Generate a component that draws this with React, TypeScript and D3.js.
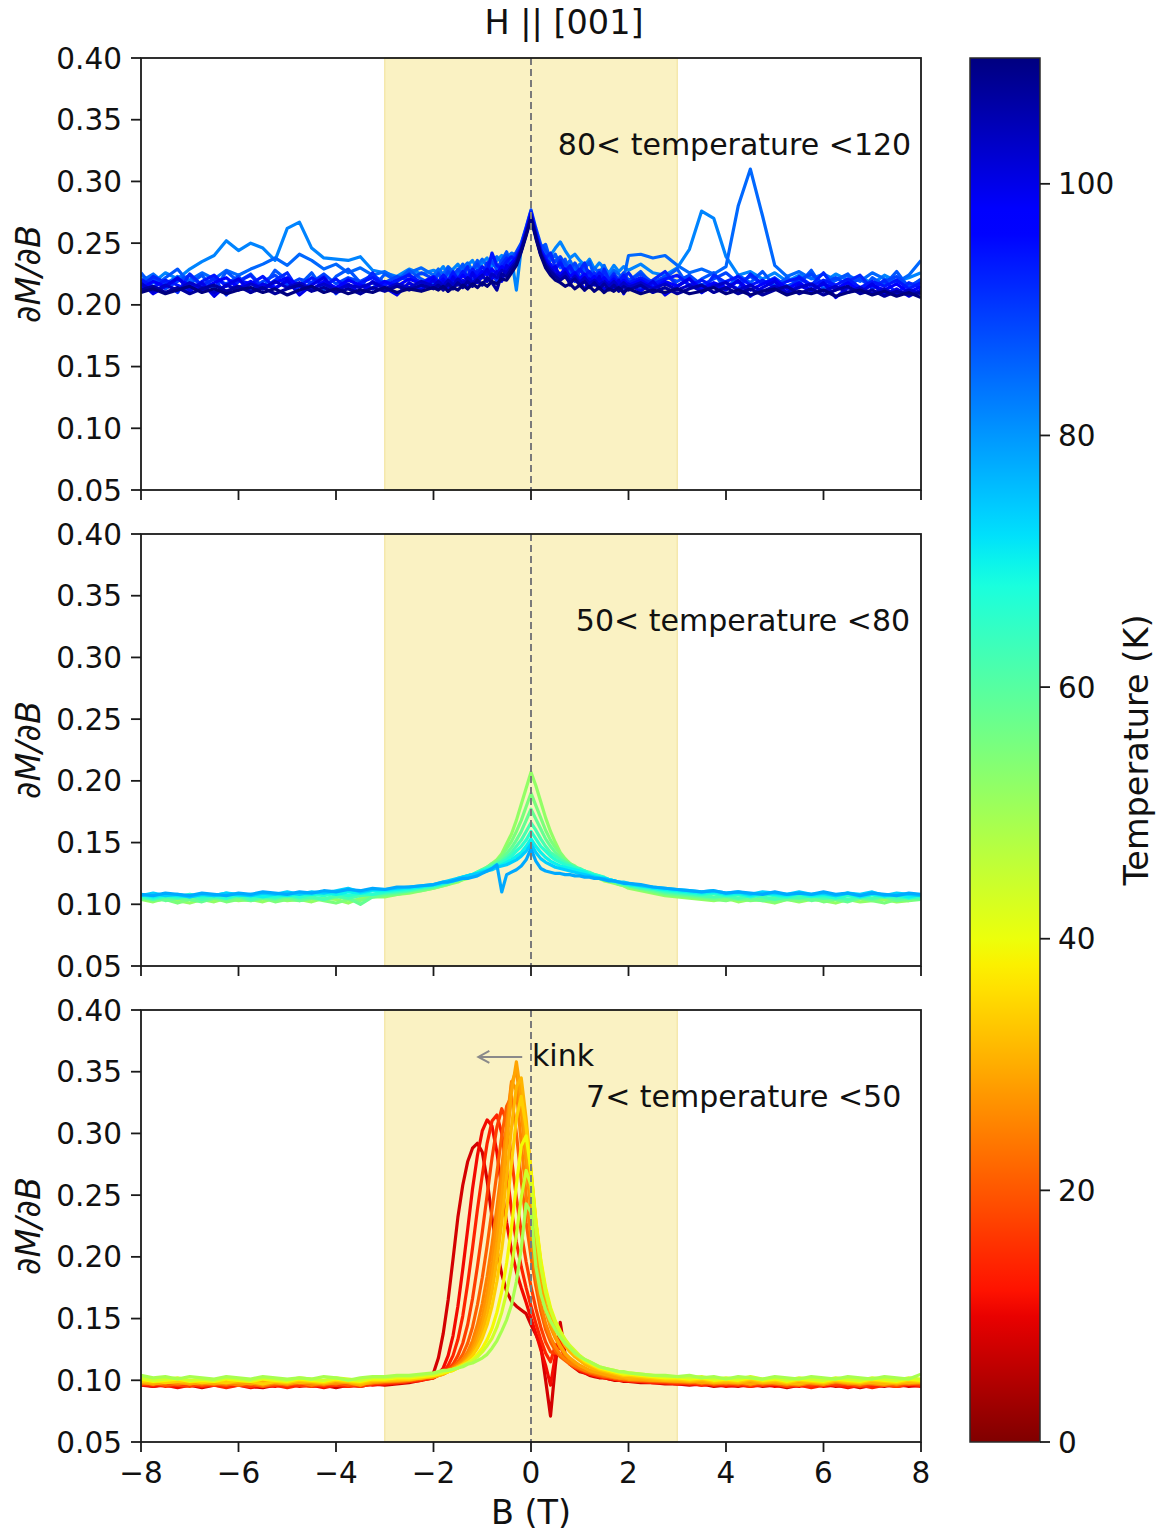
import React from 'react'
import * as d3 from 'd3'

// field grid (T): coarse in the wings, 0.1 T steps between -1.9 and 1.9
const fieldB = [
  -8, -7.75, -7.5, -7.25, -7, -6.75, -6.5, -6.25, -6, -5.75, -5.5, -5.25, -5, -4.75, -4.5, -4.25, -4, -3.75, -3.5, -3.25, -3, -2.75, -2.5, -2.25, -2,
  -1.9, -1.8, -1.7, -1.6, -1.5, -1.4, -1.3, -1.2, -1.1, -1, -0.9, -0.8, -0.7, -0.6, -0.5, -0.4, -0.3, -0.2, -0.1, 0,
  0.1, 0.2, 0.3, 0.4, 0.5, 0.6, 0.7, 0.8, 0.9, 1, 1.1, 1.2, 1.3, 1.4, 1.5, 1.6, 1.7, 1.8, 1.9,
  2, 2.25, 2.5, 2.75, 3, 3.25, 3.5, 3.75, 4, 4.25, 4.5, 4.75, 5, 5.25, 5.5, 5.75, 6, 6.25, 6.5, 6.75, 7, 7.25, 7.5, 7.75, 8,
]

// 80 < T < 120
const highTemps = [82, 85, 87, 89, 92, 94, 98, 100, 103, 107, 112]
const highCurves = [
  [0.224, 0.218, 0.226, 0.221, 0.229, 0.235, 0.240, 0.252, 0.244, 0.250, 0.246, 0.236, 0.262, 0.267, 0.246, 0.238, 0.237, 0.236, 0.239, 0.228, 0.226, 0.223, 0.229, 0.225, 0.228,
   0.226, 0.231, 0.224, 0.229, 0.233, 0.227, 0.232, 0.236, 0.229, 0.234, 0.238, 0.231, 0.236, 0.240, 0.233, 0.238, 0.212, 0.246, 0.258, 0.270,
   0.256, 0.247, 0.243, 0.240, 0.246, 0.251, 0.244, 0.238, 0.241, 0.236, 0.232, 0.237, 0.229, 0.234, 0.230, 0.226, 0.232, 0.227, 0.231,
   0.228, 0.233, 0.226, 0.224, 0.230, 0.245, 0.276, 0.270, 0.239, 0.224, 0.227, 0.221, 0.226, 0.219, 0.224, 0.222, 0.218, 0.225, 0.220, 0.223, 0.217, 0.224, 0.219, 0.222, 0.226],
  [0.219, 0.225, 0.217, 0.223, 0.220, 0.226, 0.221, 0.228, 0.224, 0.229, 0.233, 0.238, 0.232, 0.241, 0.236, 0.229, 0.233, 0.226, 0.230, 0.224, 0.227, 0.221, 0.226, 0.230, 0.224,
   0.229, 0.225, 0.231, 0.227, 0.224, 0.230, 0.234, 0.228, 0.232, 0.237, 0.231, 0.235, 0.239, 0.234, 0.238, 0.242, 0.240, 0.249, 0.262, 0.276,
   0.259, 0.246, 0.241, 0.237, 0.240, 0.235, 0.231, 0.236, 0.228, 0.233, 0.229, 0.224, 0.230, 0.226, 0.232, 0.223, 0.228, 0.225, 0.221,
   0.240, 0.241, 0.238, 0.240, 0.232, 0.226, 0.229, 0.225, 0.231, 0.280, 0.310, 0.272, 0.232, 0.223, 0.227, 0.221, 0.225, 0.220, 0.224, 0.219, 0.226, 0.221, 0.218, 0.224, 0.236],
  [0.226, 0.214, 0.222, 0.229, 0.217, 0.224, 0.212, 0.227, 0.219, 0.225, 0.214, 0.228, 0.220, 0.216, 0.226, 0.212, 0.223, 0.229, 0.218, 0.213, 0.225, 0.219, 0.228, 0.221, 0.216,
   0.226, 0.221, 0.230, 0.218, 0.227, 0.233, 0.222, 0.229, 0.236, 0.224, 0.232, 0.239, 0.228, 0.236, 0.243, 0.231, 0.240, 0.248, 0.261, 0.273,
   0.260, 0.246, 0.249, 0.236, 0.241, 0.230, 0.237, 0.226, 0.233, 0.221, 0.229, 0.235, 0.223, 0.217, 0.228, 0.221, 0.226, 0.218, 0.224,
   0.219, 0.227, 0.216, 0.222, 0.229, 0.214, 0.221, 0.226, 0.212, 0.224, 0.218, 0.227, 0.215, 0.222, 0.217, 0.228, 0.213, 0.220, 0.225, 0.211, 0.222, 0.216, 0.227, 0.214, 0.221],
  [0.216, 0.222, 0.213, 0.219, 0.224, 0.215, 0.221, 0.217, 0.223, 0.212, 0.219, 0.224, 0.216, 0.221, 0.218, 0.225, 0.217, 0.222, 0.219, 0.224, 0.218, 0.223, 0.220, 0.226, 0.221,
   0.225, 0.219, 0.227, 0.223, 0.229, 0.224, 0.221, 0.228, 0.233, 0.226, 0.231, 0.235, 0.229, 0.236, 0.240, 0.237, 0.243, 0.250, 0.263, 0.277,
   0.262, 0.249, 0.244, 0.238, 0.235, 0.239, 0.233, 0.229, 0.234, 0.227, 0.231, 0.226, 0.222, 0.228, 0.224, 0.219, 0.225, 0.221, 0.226,
   0.220, 0.225, 0.218, 0.223, 0.219, 0.224, 0.216, 0.221, 0.226, 0.218, 0.223, 0.217, 0.222, 0.215, 0.220, 0.225, 0.217, 0.222, 0.216, 0.221, 0.214, 0.219, 0.223, 0.215, 0.220],
  [0.214, 0.223, 0.218, 0.210, 0.225, 0.216, 0.221, 0.208, 0.219, 0.224, 0.213, 0.220, 0.226, 0.211, 0.218, 0.223, 0.209, 0.221, 0.215, 0.226, 0.212, 0.219, 0.225, 0.214, 0.221,
   0.216, 0.224, 0.212, 0.227, 0.219, 0.225, 0.231, 0.217, 0.228, 0.222, 0.234, 0.226, 0.219, 0.233, 0.238, 0.228, 0.241, 0.246, 0.260, 0.275,
   0.258, 0.244, 0.238, 0.242, 0.230, 0.236, 0.224, 0.232, 0.219, 0.228, 0.234, 0.221, 0.226, 0.214, 0.229, 0.220, 0.225, 0.212, 0.222,
   0.226, 0.213, 0.220, 0.227, 0.215, 0.222, 0.210, 0.224, 0.218, 0.213, 0.225, 0.217, 0.221, 0.209, 0.223, 0.216, 0.226, 0.212, 0.219, 0.224, 0.213, 0.220, 0.209, 0.218, 0.214],
  [0.221, 0.214, 0.220, 0.216, 0.211, 0.219, 0.224, 0.215, 0.220, 0.217, 0.223, 0.214, 0.219, 0.215, 0.222, 0.216, 0.221, 0.213, 0.218, 0.222, 0.216, 0.220, 0.224, 0.218, 0.223,
   0.219, 0.224, 0.220, 0.226, 0.221, 0.227, 0.223, 0.229, 0.225, 0.231, 0.227, 0.242, 0.232, 0.229, 0.235, 0.239, 0.236, 0.247, 0.261, 0.275,
   0.259, 0.245, 0.238, 0.233, 0.229, 0.234, 0.228, 0.231, 0.225, 0.229, 0.224, 0.227, 0.221, 0.226, 0.222, 0.218, 0.223, 0.219, 0.224,
   0.218, 0.222, 0.217, 0.221, 0.224, 0.216, 0.220, 0.215, 0.219, 0.223, 0.216, 0.220, 0.214, 0.219, 0.222, 0.215, 0.220, 0.216, 0.221, 0.214, 0.219, 0.215, 0.220, 0.213, 0.218],
  [0.213, 0.219, 0.215, 0.221, 0.216, 0.212, 0.218, 0.222, 0.214, 0.219, 0.213, 0.218, 0.222, 0.215, 0.212, 0.219, 0.214, 0.220, 0.216, 0.213, 0.219, 0.215, 0.221, 0.217, 0.222,
   0.217, 0.221, 0.216, 0.223, 0.219, 0.224, 0.220, 0.226, 0.222, 0.227, 0.224, 0.229, 0.225, 0.231, 0.228, 0.234, 0.238, 0.246, 0.259, 0.274,
   0.257, 0.243, 0.236, 0.231, 0.228, 0.225, 0.229, 0.223, 0.226, 0.221, 0.225, 0.219, 0.223, 0.218, 0.222, 0.217, 0.221, 0.216, 0.220,
   0.216, 0.220, 0.214, 0.219, 0.215, 0.221, 0.213, 0.218, 0.214, 0.219, 0.212, 0.217, 0.221, 0.213, 0.218, 0.212, 0.217, 0.213, 0.218, 0.211, 0.216, 0.212, 0.217, 0.210, 0.215],
  [0.218, 0.209, 0.215, 0.222, 0.212, 0.218, 0.207, 0.216, 0.221, 0.210, 0.217, 0.213, 0.220, 0.208, 0.216, 0.222, 0.211, 0.217, 0.209, 0.219, 0.214, 0.208, 0.218, 0.212, 0.220,
   0.214, 0.219, 0.211, 0.222, 0.216, 0.220, 0.213, 0.226, 0.218, 0.223, 0.229, 0.221, 0.227, 0.219, 0.232, 0.228, 0.235, 0.244, 0.258, 0.273,
   0.256, 0.241, 0.233, 0.228, 0.231, 0.222, 0.227, 0.216, 0.224, 0.219, 0.212, 0.221, 0.216, 0.223, 0.211, 0.218, 0.213, 0.220, 0.209,
   0.217, 0.211, 0.219, 0.208, 0.215, 0.221, 0.210, 0.216, 0.212, 0.220, 0.207, 0.214, 0.219, 0.209, 0.216, 0.211, 0.218, 0.206, 0.214, 0.210, 0.217, 0.208, 0.213, 0.207, 0.212],
  [0.217, 0.211, 0.216, 0.212, 0.218, 0.214, 0.210, 0.216, 0.212, 0.217, 0.213, 0.219, 0.214, 0.218, 0.213, 0.217, 0.212, 0.216, 0.214, 0.218, 0.213, 0.217, 0.214, 0.219, 0.215,
   0.219, 0.215, 0.220, 0.216, 0.221, 0.217, 0.222, 0.218, 0.221, 0.224, 0.219, 0.225, 0.222, 0.228, 0.226, 0.231, 0.236, 0.245, 0.258, 0.272,
   0.256, 0.242, 0.234, 0.229, 0.225, 0.222, 0.226, 0.220, 0.223, 0.218, 0.222, 0.217, 0.220, 0.216, 0.219, 0.215, 0.219, 0.214, 0.218,
   0.214, 0.218, 0.213, 0.217, 0.212, 0.216, 0.211, 0.215, 0.218, 0.212, 0.216, 0.211, 0.215, 0.210, 0.214, 0.217, 0.211, 0.215, 0.210, 0.214, 0.209, 0.213, 0.208, 0.212, 0.209],
  [0.212, 0.215, 0.210, 0.214, 0.209, 0.213, 0.216, 0.211, 0.215, 0.210, 0.214, 0.209, 0.213, 0.216, 0.211, 0.214, 0.210, 0.213, 0.209, 0.214, 0.211, 0.215, 0.212, 0.216, 0.213,
   0.216, 0.212, 0.217, 0.213, 0.218, 0.214, 0.219, 0.215, 0.220, 0.216, 0.222, 0.218, 0.212, 0.225, 0.223, 0.229, 0.234, 0.244, 0.257, 0.271,
   0.255, 0.241, 0.232, 0.227, 0.223, 0.220, 0.223, 0.218, 0.221, 0.216, 0.219, 0.214, 0.218, 0.213, 0.217, 0.212, 0.216, 0.211, 0.215,
   0.212, 0.216, 0.210, 0.214, 0.209, 0.213, 0.216, 0.210, 0.214, 0.209, 0.213, 0.208, 0.212, 0.215, 0.209, 0.213, 0.208, 0.212, 0.215, 0.209, 0.212, 0.207, 0.211, 0.208, 0.210],
  [0.210, 0.213, 0.209, 0.212, 0.215, 0.210, 0.213, 0.209, 0.212, 0.214, 0.210, 0.213, 0.208, 0.212, 0.215, 0.210, 0.213, 0.209, 0.212, 0.210, 0.214, 0.210, 0.213, 0.211, 0.214,
   0.212, 0.215, 0.211, 0.214, 0.212, 0.216, 0.213, 0.217, 0.214, 0.218, 0.215, 0.219, 0.217, 0.221, 0.220, 0.226, 0.232, 0.243, 0.256, 0.270,
   0.254, 0.240, 0.230, 0.224, 0.220, 0.218, 0.215, 0.217, 0.213, 0.216, 0.212, 0.215, 0.211, 0.214, 0.210, 0.213, 0.211, 0.214, 0.210,
   0.213, 0.209, 0.212, 0.210, 0.213, 0.209, 0.211, 0.214, 0.209, 0.212, 0.208, 0.211, 0.213, 0.208, 0.211, 0.209, 0.212, 0.207, 0.210, 0.212, 0.208, 0.211, 0.207, 0.210, 0.206],
]

// 50 < T < 80
const midTemps = [52, 55, 58, 62, 66, 70, 74, 78]
const midCurves = [
  [0.104, 0.102, 0.105, 0.103, 0.101, 0.104, 0.102, 0.105, 0.103, 0.104, 0.102, 0.105, 0.103, 0.104, 0.102, 0.105, 0.104, 0.101, 0.105, 0.106, 0.106, 0.108, 0.109, 0.111, 0.113,
   0.114, 0.115, 0.116, 0.117, 0.118, 0.120, 0.121, 0.123, 0.125, 0.127, 0.130, 0.133, 0.136, 0.141, 0.149, 0.157, 0.168, 0.181, 0.194, 0.207,
   0.196, 0.183, 0.170, 0.159, 0.150, 0.142, 0.137, 0.133, 0.130, 0.128, 0.126, 0.124, 0.122, 0.121, 0.119, 0.118, 0.117, 0.116, 0.115,
   0.113, 0.111, 0.109, 0.107, 0.106, 0.105, 0.104, 0.103, 0.105, 0.102, 0.104, 0.103, 0.101, 0.104, 0.102, 0.104, 0.103, 0.101, 0.104, 0.102, 0.103, 0.104, 0.102, 0.103, 0.106],
  [0.105, 0.103, 0.104, 0.101, 0.104, 0.103, 0.105, 0.102, 0.104, 0.103, 0.105, 0.102, 0.104, 0.103, 0.105, 0.103, 0.101, 0.104, 0.103, 0.106, 0.107, 0.108, 0.110, 0.111, 0.113,
   0.114, 0.115, 0.116, 0.118, 0.119, 0.120, 0.122, 0.124, 0.126, 0.128, 0.130, 0.133, 0.135, 0.139, 0.145, 0.151, 0.159, 0.168, 0.179, 0.190,
   0.180, 0.170, 0.160, 0.152, 0.146, 0.141, 0.136, 0.133, 0.131, 0.128, 0.126, 0.125, 0.123, 0.121, 0.120, 0.119, 0.118, 0.116, 0.115,
   0.114, 0.112, 0.110, 0.108, 0.107, 0.106, 0.105, 0.104, 0.103, 0.105, 0.103, 0.104, 0.102, 0.104, 0.103, 0.105, 0.102, 0.104, 0.103, 0.105, 0.103, 0.101, 0.104, 0.103, 0.104],
  [0.104, 0.106, 0.103, 0.105, 0.104, 0.102, 0.105, 0.104, 0.106, 0.103, 0.105, 0.104, 0.106, 0.103, 0.105, 0.104, 0.106, 0.105, 0.100, 0.106, 0.108, 0.109, 0.111, 0.112, 0.114,
   0.115, 0.116, 0.117, 0.118, 0.120, 0.121, 0.123, 0.124, 0.126, 0.128, 0.130, 0.132, 0.134, 0.137, 0.141, 0.146, 0.152, 0.159, 0.168, 0.177,
   0.169, 0.161, 0.153, 0.147, 0.142, 0.138, 0.135, 0.132, 0.130, 0.128, 0.127, 0.125, 0.124, 0.122, 0.121, 0.119, 0.118, 0.117, 0.116,
   0.115, 0.113, 0.111, 0.109, 0.108, 0.107, 0.106, 0.105, 0.106, 0.104, 0.105, 0.103, 0.105, 0.104, 0.106, 0.103, 0.105, 0.104, 0.102, 0.105, 0.104, 0.106, 0.103, 0.105, 0.104],
  [0.106, 0.104, 0.106, 0.105, 0.107, 0.104, 0.106, 0.105, 0.107, 0.104, 0.106, 0.105, 0.107, 0.105, 0.106, 0.104, 0.107, 0.105, 0.107, 0.108, 0.109, 0.110, 0.111, 0.113, 0.114,
   0.115, 0.116, 0.117, 0.119, 0.120, 0.121, 0.123, 0.124, 0.126, 0.128, 0.129, 0.131, 0.133, 0.135, 0.138, 0.142, 0.147, 0.152, 0.159, 0.166,
   0.160, 0.153, 0.147, 0.142, 0.139, 0.136, 0.134, 0.132, 0.130, 0.129, 0.127, 0.126, 0.124, 0.123, 0.121, 0.120, 0.119, 0.117, 0.116,
   0.115, 0.113, 0.112, 0.110, 0.109, 0.108, 0.107, 0.106, 0.107, 0.105, 0.107, 0.106, 0.104, 0.106, 0.105, 0.107, 0.105, 0.106, 0.104, 0.106, 0.105, 0.107, 0.105, 0.106, 0.105],
  [0.107, 0.105, 0.107, 0.106, 0.108, 0.106, 0.107, 0.105, 0.108, 0.106, 0.107, 0.106, 0.108, 0.106, 0.108, 0.107, 0.109, 0.107, 0.109, 0.108, 0.110, 0.111, 0.112, 0.114, 0.115,
   0.116, 0.117, 0.118, 0.119, 0.120, 0.122, 0.123, 0.124, 0.126, 0.127, 0.129, 0.130, 0.132, 0.134, 0.136, 0.139, 0.143, 0.147, 0.152, 0.159,
   0.153, 0.147, 0.143, 0.139, 0.136, 0.134, 0.132, 0.131, 0.129, 0.128, 0.127, 0.125, 0.124, 0.123, 0.122, 0.120, 0.119, 0.118, 0.117,
   0.116, 0.114, 0.113, 0.111, 0.110, 0.109, 0.108, 0.109, 0.107, 0.108, 0.106, 0.108, 0.107, 0.106, 0.108, 0.106, 0.107, 0.105, 0.107, 0.106, 0.108, 0.106, 0.107, 0.105, 0.107],
  [0.108, 0.106, 0.108, 0.107, 0.106, 0.108, 0.107, 0.109, 0.107, 0.108, 0.106, 0.108, 0.107, 0.109, 0.108, 0.110, 0.108, 0.110, 0.109, 0.111, 0.111, 0.112, 0.113, 0.114, 0.116,
   0.116, 0.117, 0.118, 0.119, 0.121, 0.122, 0.123, 0.124, 0.125, 0.127, 0.128, 0.129, 0.131, 0.132, 0.134, 0.136, 0.139, 0.142, 0.147, 0.153,
   0.147, 0.142, 0.138, 0.135, 0.133, 0.131, 0.130, 0.129, 0.128, 0.127, 0.126, 0.124, 0.123, 0.122, 0.121, 0.120, 0.119, 0.118, 0.117,
   0.116, 0.115, 0.113, 0.112, 0.111, 0.110, 0.109, 0.110, 0.108, 0.109, 0.107, 0.109, 0.108, 0.107, 0.109, 0.107, 0.108, 0.107, 0.109, 0.106, 0.108, 0.107, 0.108, 0.106, 0.108],
  [0.107, 0.109, 0.107, 0.108, 0.106, 0.108, 0.107, 0.109, 0.108, 0.107, 0.109, 0.108, 0.110, 0.108, 0.110, 0.109, 0.111, 0.113, 0.110, 0.112, 0.112, 0.113, 0.114, 0.115, 0.116,
   0.117, 0.118, 0.119, 0.120, 0.121, 0.122, 0.123, 0.124, 0.125, 0.126, 0.127, 0.128, 0.130, 0.131, 0.132, 0.134, 0.136, 0.139, 0.143, 0.149,
   0.142, 0.137, 0.134, 0.132, 0.130, 0.129, 0.128, 0.127, 0.126, 0.125, 0.124, 0.123, 0.122, 0.121, 0.121, 0.120, 0.119, 0.118, 0.118,
   0.117, 0.115, 0.114, 0.113, 0.112, 0.111, 0.110, 0.111, 0.109, 0.110, 0.108, 0.110, 0.109, 0.108, 0.110, 0.108, 0.109, 0.107, 0.109, 0.108, 0.110, 0.107, 0.109, 0.108, 0.107],
  [0.108, 0.107, 0.109, 0.108, 0.107, 0.109, 0.108, 0.107, 0.109, 0.108, 0.110, 0.109, 0.108, 0.110, 0.109, 0.111, 0.110, 0.112, 0.111, 0.113, 0.112, 0.114, 0.114, 0.115, 0.116,
   0.117, 0.118, 0.118, 0.119, 0.120, 0.121, 0.121, 0.122, 0.123, 0.125, 0.127, 0.129, 0.132, 0.110, 0.124, 0.126, 0.128, 0.131, 0.136, 0.145,
   0.135, 0.129, 0.127, 0.126, 0.125, 0.125, 0.124, 0.124, 0.123, 0.123, 0.122, 0.122, 0.121, 0.121, 0.120, 0.119, 0.119, 0.118, 0.117,
   0.117, 0.116, 0.114, 0.113, 0.112, 0.111, 0.110, 0.111, 0.109, 0.110, 0.109, 0.108, 0.110, 0.108, 0.109, 0.108, 0.110, 0.108, 0.109, 0.107, 0.109, 0.108, 0.107, 0.109, 0.108],
]

// 7 < T < 50
const lowTemps = [8, 11, 14, 17, 21, 25, 27, 29, 31, 34, 39, 44, 49]
const lowCurves = [
  [0.096, 0.095, 0.097, 0.095, 0.096, 0.094, 0.096, 0.095, 0.097, 0.095, 0.094, 0.096, 0.095, 0.097, 0.095, 0.096, 0.094, 0.096, 0.095, 0.097, 0.096, 0.097, 0.098, 0.100, 0.106,
   0.118, 0.138, 0.165, 0.198, 0.232, 0.258, 0.277, 0.288, 0.292, 0.285, 0.262, 0.232, 0.206, 0.186, 0.172, 0.164, 0.160, 0.157, 0.154, 0.145,
   0.137, 0.128, 0.100, 0.071, 0.112, 0.147, 0.121, 0.113, 0.110, 0.107, 0.106, 0.104, 0.103, 0.102, 0.102, 0.101, 0.100, 0.100, 0.099,
   0.099, 0.098, 0.098, 0.097, 0.097, 0.096, 0.097, 0.095, 0.096, 0.095, 0.097, 0.095, 0.096, 0.094, 0.096, 0.095, 0.097, 0.095, 0.096, 0.094, 0.096, 0.095, 0.097, 0.095, 0.096],
  [0.097, 0.095, 0.096, 0.094, 0.096, 0.095, 0.097, 0.095, 0.096, 0.094, 0.096, 0.095, 0.097, 0.095, 0.096, 0.094, 0.096, 0.095, 0.097, 0.096, 0.097, 0.098, 0.099, 0.100, 0.102,
   0.105, 0.110, 0.120, 0.136, 0.160, 0.190, 0.222, 0.255, 0.282, 0.302, 0.311, 0.306, 0.285, 0.255, 0.228, 0.205, 0.188, 0.175, 0.163, 0.150,
   0.138, 0.125, 0.112, 0.096, 0.120, 0.138, 0.118, 0.114, 0.111, 0.108, 0.106, 0.105, 0.104, 0.103, 0.102, 0.101, 0.101, 0.100, 0.100,
   0.099, 0.099, 0.098, 0.098, 0.097, 0.097, 0.096, 0.097, 0.095, 0.096, 0.095, 0.097, 0.095, 0.096, 0.095, 0.097, 0.095, 0.096, 0.094, 0.096, 0.095, 0.097, 0.095, 0.096, 0.095],
  [0.096, 0.097, 0.095, 0.096, 0.097, 0.095, 0.096, 0.094, 0.096, 0.097, 0.095, 0.096, 0.094, 0.096, 0.097, 0.095, 0.096, 0.095, 0.096, 0.097, 0.097, 0.098, 0.099, 0.100, 0.102,
   0.104, 0.107, 0.112, 0.120, 0.133, 0.152, 0.178, 0.207, 0.238, 0.266, 0.292, 0.310, 0.315, 0.300, 0.270, 0.238, 0.212, 0.192, 0.175, 0.160,
   0.146, 0.133, 0.122, 0.115, 0.128, 0.133, 0.117, 0.113, 0.110, 0.108, 0.107, 0.105, 0.104, 0.103, 0.102, 0.102, 0.101, 0.100, 0.100,
   0.100, 0.099, 0.098, 0.098, 0.097, 0.098, 0.096, 0.097, 0.096, 0.097, 0.095, 0.096, 0.097, 0.095, 0.096, 0.094, 0.096, 0.097, 0.095, 0.096, 0.094, 0.096, 0.095, 0.097, 0.096],
  [0.097, 0.096, 0.098, 0.096, 0.095, 0.097, 0.096, 0.098, 0.096, 0.095, 0.097, 0.096, 0.098, 0.096, 0.095, 0.097, 0.096, 0.097, 0.095, 0.097, 0.098, 0.098, 0.099, 0.101, 0.102,
   0.104, 0.106, 0.109, 0.113, 0.120, 0.130, 0.145, 0.166, 0.192, 0.220, 0.250, 0.280, 0.305, 0.320, 0.310, 0.280, 0.248, 0.220, 0.196, 0.176,
   0.158, 0.143, 0.131, 0.123, 0.122, 0.128, 0.118, 0.114, 0.111, 0.109, 0.107, 0.106, 0.105, 0.104, 0.103, 0.102, 0.101, 0.101, 0.100,
   0.100, 0.099, 0.099, 0.098, 0.098, 0.097, 0.098, 0.096, 0.097, 0.096, 0.098, 0.096, 0.097, 0.095, 0.097, 0.096, 0.098, 0.096, 0.097, 0.095, 0.097, 0.096, 0.095, 0.097, 0.096],
  [0.097, 0.098, 0.096, 0.097, 0.098, 0.096, 0.097, 0.096, 0.098, 0.097, 0.095, 0.097, 0.096, 0.098, 0.097, 0.096, 0.098, 0.096, 0.097, 0.098, 0.098, 0.099, 0.100, 0.101, 0.103,
   0.104, 0.106, 0.108, 0.111, 0.115, 0.121, 0.130, 0.143, 0.161, 0.183, 0.209, 0.238, 0.268, 0.298, 0.322, 0.330, 0.300, 0.262, 0.228, 0.200,
   0.176, 0.156, 0.141, 0.131, 0.124, 0.119, 0.116, 0.113, 0.111, 0.109, 0.108, 0.106, 0.105, 0.104, 0.103, 0.103, 0.102, 0.101, 0.101,
   0.100, 0.100, 0.099, 0.099, 0.098, 0.099, 0.097, 0.098, 0.097, 0.098, 0.096, 0.098, 0.097, 0.096, 0.098, 0.097, 0.096, 0.098, 0.097, 0.096, 0.098, 0.097, 0.096, 0.098, 0.097],
  [0.098, 0.097, 0.099, 0.097, 0.098, 0.097, 0.099, 0.098, 0.096, 0.098, 0.097, 0.099, 0.097, 0.098, 0.096, 0.098, 0.097, 0.099, 0.097, 0.098, 0.099, 0.099, 0.100, 0.102, 0.103,
   0.104, 0.106, 0.108, 0.110, 0.113, 0.117, 0.123, 0.132, 0.145, 0.162, 0.184, 0.210, 0.240, 0.272, 0.308, 0.342, 0.335, 0.292, 0.250, 0.214,
   0.184, 0.162, 0.146, 0.135, 0.127, 0.121, 0.117, 0.114, 0.112, 0.110, 0.108, 0.107, 0.106, 0.105, 0.104, 0.103, 0.102, 0.102, 0.101,
   0.101, 0.100, 0.100, 0.099, 0.099, 0.098, 0.099, 0.097, 0.098, 0.097, 0.099, 0.097, 0.098, 0.097, 0.096, 0.098, 0.097, 0.099, 0.097, 0.098, 0.097, 0.096, 0.098, 0.097, 0.098],
  [0.098, 0.097, 0.099, 0.098, 0.097, 0.099, 0.098, 0.097, 0.099, 0.098, 0.096, 0.098, 0.097, 0.099, 0.098, 0.097, 0.098, 0.099, 0.097, 0.098, 0.099, 0.100, 0.100, 0.102, 0.103,
   0.104, 0.105, 0.107, 0.109, 0.112, 0.115, 0.120, 0.127, 0.138, 0.152, 0.171, 0.196, 0.226, 0.262, 0.302, 0.340, 0.352, 0.318, 0.275, 0.236,
   0.200, 0.174, 0.156, 0.143, 0.134, 0.127, 0.121, 0.117, 0.114, 0.112, 0.110, 0.108, 0.107, 0.106, 0.105, 0.104, 0.103, 0.102, 0.102,
   0.101, 0.101, 0.100, 0.100, 0.099, 0.100, 0.098, 0.099, 0.098, 0.099, 0.097, 0.099, 0.098, 0.097, 0.099, 0.098, 0.097, 0.099, 0.098, 0.097, 0.098, 0.099, 0.097, 0.098, 0.099],
  [0.099, 0.097, 0.098, 0.099, 0.097, 0.098, 0.097, 0.099, 0.098, 0.097, 0.099, 0.098, 0.097, 0.099, 0.098, 0.097, 0.099, 0.098, 0.096, 0.099, 0.099, 0.100, 0.101, 0.102, 0.103,
   0.104, 0.105, 0.107, 0.109, 0.111, 0.114, 0.118, 0.124, 0.133, 0.145, 0.162, 0.184, 0.212, 0.247, 0.290, 0.333, 0.358, 0.330, 0.290, 0.250,
   0.210, 0.180, 0.160, 0.146, 0.136, 0.128, 0.122, 0.118, 0.115, 0.112, 0.110, 0.108, 0.107, 0.106, 0.105, 0.104, 0.103, 0.102, 0.102,
   0.101, 0.101, 0.100, 0.100, 0.099, 0.100, 0.098, 0.099, 0.098, 0.099, 0.097, 0.099, 0.098, 0.097, 0.099, 0.098, 0.097, 0.099, 0.098, 0.097, 0.099, 0.098, 0.097, 0.099, 0.098],
  [0.099, 0.098, 0.100, 0.099, 0.098, 0.100, 0.099, 0.098, 0.099, 0.100, 0.098, 0.099, 0.100, 0.098, 0.099, 0.098, 0.100, 0.099, 0.097, 0.099, 0.100, 0.100, 0.101, 0.102, 0.103,
   0.104, 0.105, 0.107, 0.108, 0.110, 0.113, 0.117, 0.122, 0.129, 0.139, 0.153, 0.172, 0.197, 0.228, 0.265, 0.305, 0.338, 0.345, 0.312, 0.270,
   0.228, 0.194, 0.170, 0.154, 0.143, 0.135, 0.128, 0.123, 0.119, 0.116, 0.113, 0.111, 0.109, 0.108, 0.107, 0.106, 0.105, 0.104, 0.103,
   0.102, 0.102, 0.101, 0.100, 0.100, 0.099, 0.100, 0.098, 0.099, 0.098, 0.100, 0.098, 0.099, 0.098, 0.097, 0.099, 0.098, 0.100, 0.098, 0.099, 0.098, 0.097, 0.099, 0.098, 0.099],
  [0.099, 0.100, 0.098, 0.099, 0.100, 0.098, 0.099, 0.098, 0.100, 0.099, 0.097, 0.099, 0.098, 0.100, 0.099, 0.098, 0.100, 0.099, 0.098, 0.100, 0.100, 0.101, 0.101, 0.102, 0.104,
   0.105, 0.106, 0.107, 0.109, 0.111, 0.113, 0.116, 0.120, 0.126, 0.134, 0.145, 0.160, 0.180, 0.206, 0.238, 0.276, 0.312, 0.330, 0.305, 0.268,
   0.228, 0.196, 0.173, 0.157, 0.146, 0.138, 0.131, 0.126, 0.121, 0.118, 0.115, 0.113, 0.111, 0.109, 0.108, 0.107, 0.106, 0.105, 0.104,
   0.104, 0.103, 0.102, 0.101, 0.101, 0.100, 0.101, 0.099, 0.100, 0.099, 0.101, 0.099, 0.100, 0.098, 0.100, 0.099, 0.098, 0.100, 0.099, 0.098, 0.100, 0.099, 0.098, 0.100, 0.099],
  [0.101, 0.099, 0.100, 0.101, 0.099, 0.100, 0.099, 0.101, 0.100, 0.099, 0.101, 0.100, 0.099, 0.101, 0.100, 0.099, 0.101, 0.100, 0.099, 0.101, 0.101, 0.102, 0.102, 0.103, 0.104,
   0.105, 0.106, 0.107, 0.108, 0.110, 0.112, 0.114, 0.117, 0.121, 0.126, 0.133, 0.142, 0.155, 0.172, 0.195, 0.224, 0.258, 0.290, 0.298, 0.270,
   0.230, 0.198, 0.175, 0.159, 0.148, 0.140, 0.133, 0.127, 0.123, 0.119, 0.116, 0.114, 0.112, 0.110, 0.109, 0.108, 0.107, 0.106, 0.105,
   0.105, 0.104, 0.103, 0.102, 0.102, 0.101, 0.102, 0.100, 0.101, 0.100, 0.102, 0.100, 0.101, 0.099, 0.101, 0.100, 0.099, 0.101, 0.100, 0.099, 0.101, 0.100, 0.099, 0.101, 0.100],
  [0.102, 0.100, 0.101, 0.102, 0.100, 0.101, 0.100, 0.102, 0.101, 0.100, 0.102, 0.101, 0.100, 0.102, 0.101, 0.100, 0.102, 0.101, 0.100, 0.102, 0.102, 0.103, 0.103, 0.104, 0.105,
   0.106, 0.107, 0.108, 0.109, 0.110, 0.112, 0.114, 0.116, 0.119, 0.123, 0.128, 0.134, 0.143, 0.155, 0.171, 0.192, 0.218, 0.248, 0.270, 0.258,
   0.222, 0.192, 0.171, 0.157, 0.147, 0.139, 0.133, 0.128, 0.124, 0.120, 0.117, 0.115, 0.113, 0.111, 0.110, 0.109, 0.108, 0.107, 0.106,
   0.106, 0.105, 0.104, 0.103, 0.103, 0.102, 0.103, 0.101, 0.102, 0.101, 0.103, 0.101, 0.102, 0.100, 0.102, 0.101, 0.100, 0.102, 0.101, 0.100, 0.102, 0.101, 0.100, 0.102, 0.101],
  [0.104, 0.102, 0.103, 0.101, 0.103, 0.102, 0.101, 0.103, 0.102, 0.101, 0.103, 0.102, 0.101, 0.102, 0.101, 0.103, 0.102, 0.100, 0.102, 0.103, 0.103, 0.104, 0.104, 0.105, 0.106,
   0.107, 0.108, 0.108, 0.109, 0.110, 0.111, 0.113, 0.114, 0.116, 0.118, 0.121, 0.126, 0.132, 0.140, 0.149, 0.161, 0.180, 0.207, 0.243, 0.236,
   0.192, 0.170, 0.157, 0.148, 0.141, 0.135, 0.130, 0.126, 0.122, 0.119, 0.117, 0.115, 0.113, 0.111, 0.110, 0.109, 0.108, 0.107, 0.107,
   0.106, 0.105, 0.104, 0.104, 0.103, 0.104, 0.102, 0.103, 0.101, 0.103, 0.102, 0.101, 0.103, 0.102, 0.101, 0.103, 0.102, 0.101, 0.103, 0.102, 0.101, 0.103, 0.102, 0.101, 0.105],
]

const panelTitles = ['80< temperature <120', '50< temperature <80', '7< temperature <50']
const fieldTicks = [-8, -6, -4, -2, 0, 2, 4, 6, 8]
const dmdbTicks = [0.05, 0.1, 0.15, 0.2, 0.25, 0.3, 0.35, 0.4]
const tempTicks = [0, 20, 40, 60, 80, 100]

const FONT = 'DejaVu Sans, sans-serif'
const FS_TICK = 29.5
const FS_TEXT = 30
const FS_LABEL = 33.5
const W = 1166
const H = 1533
const LEFT = 141
const RIGHT = 921
const PANEL_H = 432
const PANEL_TOPS = [58, 534, 1010]
const CB = { x: 970, w: 70, top: 58, bottom: 1442 }
const TICK = 10

// matplotlib 'jet' segment data, reversed through the temperature norm
const jetR = d3.scaleLinear().domain([0, 0.35, 0.66, 0.89, 1]).range([0, 0, 1, 1, 0.5]).clamp(true)
const jetG = d3.scaleLinear().domain([0, 0.125, 0.375, 0.64, 0.91, 1]).range([0, 0, 1, 1, 0, 0]).clamp(true)
const jetB = d3.scaleLinear().domain([0, 0.11, 0.34, 0.65, 1]).range([0.5, 1, 1, 0, 0]).clamp(true)
const tempNorm = d3.scaleLinear().domain([0, 110]).range([1, 0]).clamp(true)
const tempColor = (t: number) => {
  const v = tempNorm(t)
  return d3.rgb(jetR(v) * 255, jetG(v) * 255, jetB(v) * 255).formatHex()
}

const x = d3.scaleLinear().domain([-8, 8]).range([LEFT, RIGHT])
const fmtY = d3.format('.2f')
const fmtX = (v: number) => (v < 0 ? '\u2212' + Math.abs(v) : String(v))

type PanelProps = {
  top: number
  temps: number[]
  curves: number[][]
  title: string
  titleAt: [number, number]
  showXLabels: boolean
  idx: number
  kink?: boolean
}

const Panel = ({ top, temps, curves, title, titleAt, showXLabels, idx, kink }: PanelProps) => {
  const y = d3.scaleLinear().domain([0.05, 0.4]).range([top + PANEL_H, top])
  const line = d3
    .line<number>()
    .defined((v, i) => v != null && fieldB[i] != null)
    .x((v, i) => x(fieldB[i]))
    .y(v => y(v))
  const bottom = top + PANEL_H
  const ky = y(0.362)
  return (
    <g>
      <defs>
        <clipPath id={'clip' + idx}>
          <rect x={LEFT} y={top} width={RIGHT - LEFT} height={PANEL_H} />
        </clipPath>
      </defs>
      <rect x={x(-3)} y={top} width={x(3) - x(-3)} height={PANEL_H} fill="#faf2c3" stroke="#f3e4a2" strokeWidth={1.2} />
      <g clipPath={`url(#clip${idx})`}>
        {curves.map((c, i) => (
          <path key={i} d={line(c) || ''} fill="none" stroke={tempColor(temps[i])} strokeWidth={3.2} strokeLinejoin="round" />
        ))}
      </g>
      <line x1={x(0)} x2={x(0)} y1={top} y2={bottom} stroke="#7a7a7a" strokeWidth={2} strokeDasharray="7,4" />
      {kink && (
        <g>
          <line x1={x(-0.18)} x2={x(-1.08)} y1={ky} y2={ky} stroke="#8a8a8a" strokeWidth={2} />
          <path
            d={`M${x(-1.08) + 11},${ky - 6} L${x(-1.08)},${ky} L${x(-1.08) + 11},${ky + 6}`}
            fill="none"
            stroke="#8a8a8a"
            strokeWidth={2}
          />
          <text x={x(0.02)} y={y(0.3545)} fontSize={FS_TEXT} fontFamily={FONT} fill="#111">kink</text>
        </g>
      )}
      <text x={x(titleAt[0])} y={y(titleAt[1])} fontSize={FS_TEXT} fontFamily={FONT} fill="#111">{title}</text>
      <rect x={LEFT} y={top} width={RIGHT - LEFT} height={PANEL_H} fill="none" stroke="#1a1a1a" strokeWidth={1.8} />
      {dmdbTicks.map(t => (
        <g key={t}>
          <line x1={LEFT - TICK} x2={LEFT} y1={y(t)} y2={y(t)} stroke="#1a1a1a" strokeWidth={1.8} />
          <text x={LEFT - TICK - 9} y={y(t)} dy="0.36em" textAnchor="end" fontSize={FS_TICK} fontFamily={FONT} fill="#111">
            {fmtY(t)}
          </text>
        </g>
      ))}
      {fieldTicks.map(t => (
        <g key={t}>
          <line x1={x(t)} x2={x(t)} y1={bottom} y2={bottom + TICK} stroke="#1a1a1a" strokeWidth={1.8} />
          {showXLabels && (
            <text x={x(t)} y={bottom + 41} textAnchor="middle" fontSize={FS_TICK} fontFamily={FONT} fill="#111">
              {fmtX(t)}
            </text>
          )}
        </g>
      ))}
      <text
        transform={`translate(40,${top + PANEL_H / 2}) rotate(-90)`}
        textAnchor="middle"
        fontSize={FS_LABEL}
        fontFamily={FONT}
        fontStyle="italic"
        fill="#111"
      >
        ∂M/∂B
      </text>
    </g>
  )
}

const App = () => {
  const cScale = d3.scaleLinear().domain([0, 110]).range([CB.bottom, CB.top])
  const stops = d3.range(0, 56).map(i => ({ offset: i / 55, color: tempColor((110 * i) / 55) }))
  const panels = [
    { temps: highTemps, curves: highCurves, titleAt: [0.55, 0.3215] as [number, number] },
    { temps: midTemps, curves: midCurves, titleAt: [0.92, 0.3215] as [number, number] },
    { temps: lowTemps, curves: lowCurves, titleAt: [1.13, 0.3215] as [number, number] },
  ]
  return (
    <svg width={W} height={H} style={{ position: 'absolute', left: 0, top: 0, background: '#fff' }}>
      <rect width={W} height={H} fill="#fff" />
      <defs>
        <linearGradient id="jetbar" x1="0" y1="1" x2="0" y2="0">
          {stops.map((s, i) => (
            <stop key={i} offset={s.offset} stopColor={s.color} />
          ))}
        </linearGradient>
      </defs>
      <text x={564} y={34} textAnchor="middle" fontSize={FS_LABEL} fontFamily={FONT} fill="#111">
        H || [001]
      </text>
      {panels.map((p, i) => (
        <Panel
          key={i}
          idx={i}
          top={PANEL_TOPS[i]}
          temps={p.temps}
          curves={p.curves}
          title={panelTitles[i]}
          titleAt={p.titleAt}
          showXLabels={i === 2}
          kink={i === 2}
        />
      ))}
      <text x={x(0)} y={1524} textAnchor="middle" fontSize={FS_LABEL} fontFamily={FONT} fill="#111">
        B (T)
      </text>
      <rect x={CB.x} y={CB.top} width={CB.w} height={CB.bottom - CB.top} fill="url(#jetbar)" stroke="#2a2a2a" strokeWidth={1.5} />
      {tempTicks.map(t => (
        <g key={t}>
          <line x1={CB.x + CB.w} x2={CB.x + CB.w + TICK} y1={cScale(t)} y2={cScale(t)} stroke="#1a1a1a" strokeWidth={1.8} />
          <text x={CB.x + CB.w + TICK + 8} y={cScale(t)} dy="0.36em" fontSize={FS_TICK} fontFamily={FONT} fill="#111">
            {t}
          </text>
        </g>
      ))}
      <text
        transform={`translate(1148,${(CB.top + CB.bottom) / 2}) rotate(-90)`}
        textAnchor="middle"
        fontSize={FS_LABEL}
        fontFamily={FONT}
        fill="#111"
      >
        Temperature (K)
      </text>
    </svg>
  )
}

export default App
